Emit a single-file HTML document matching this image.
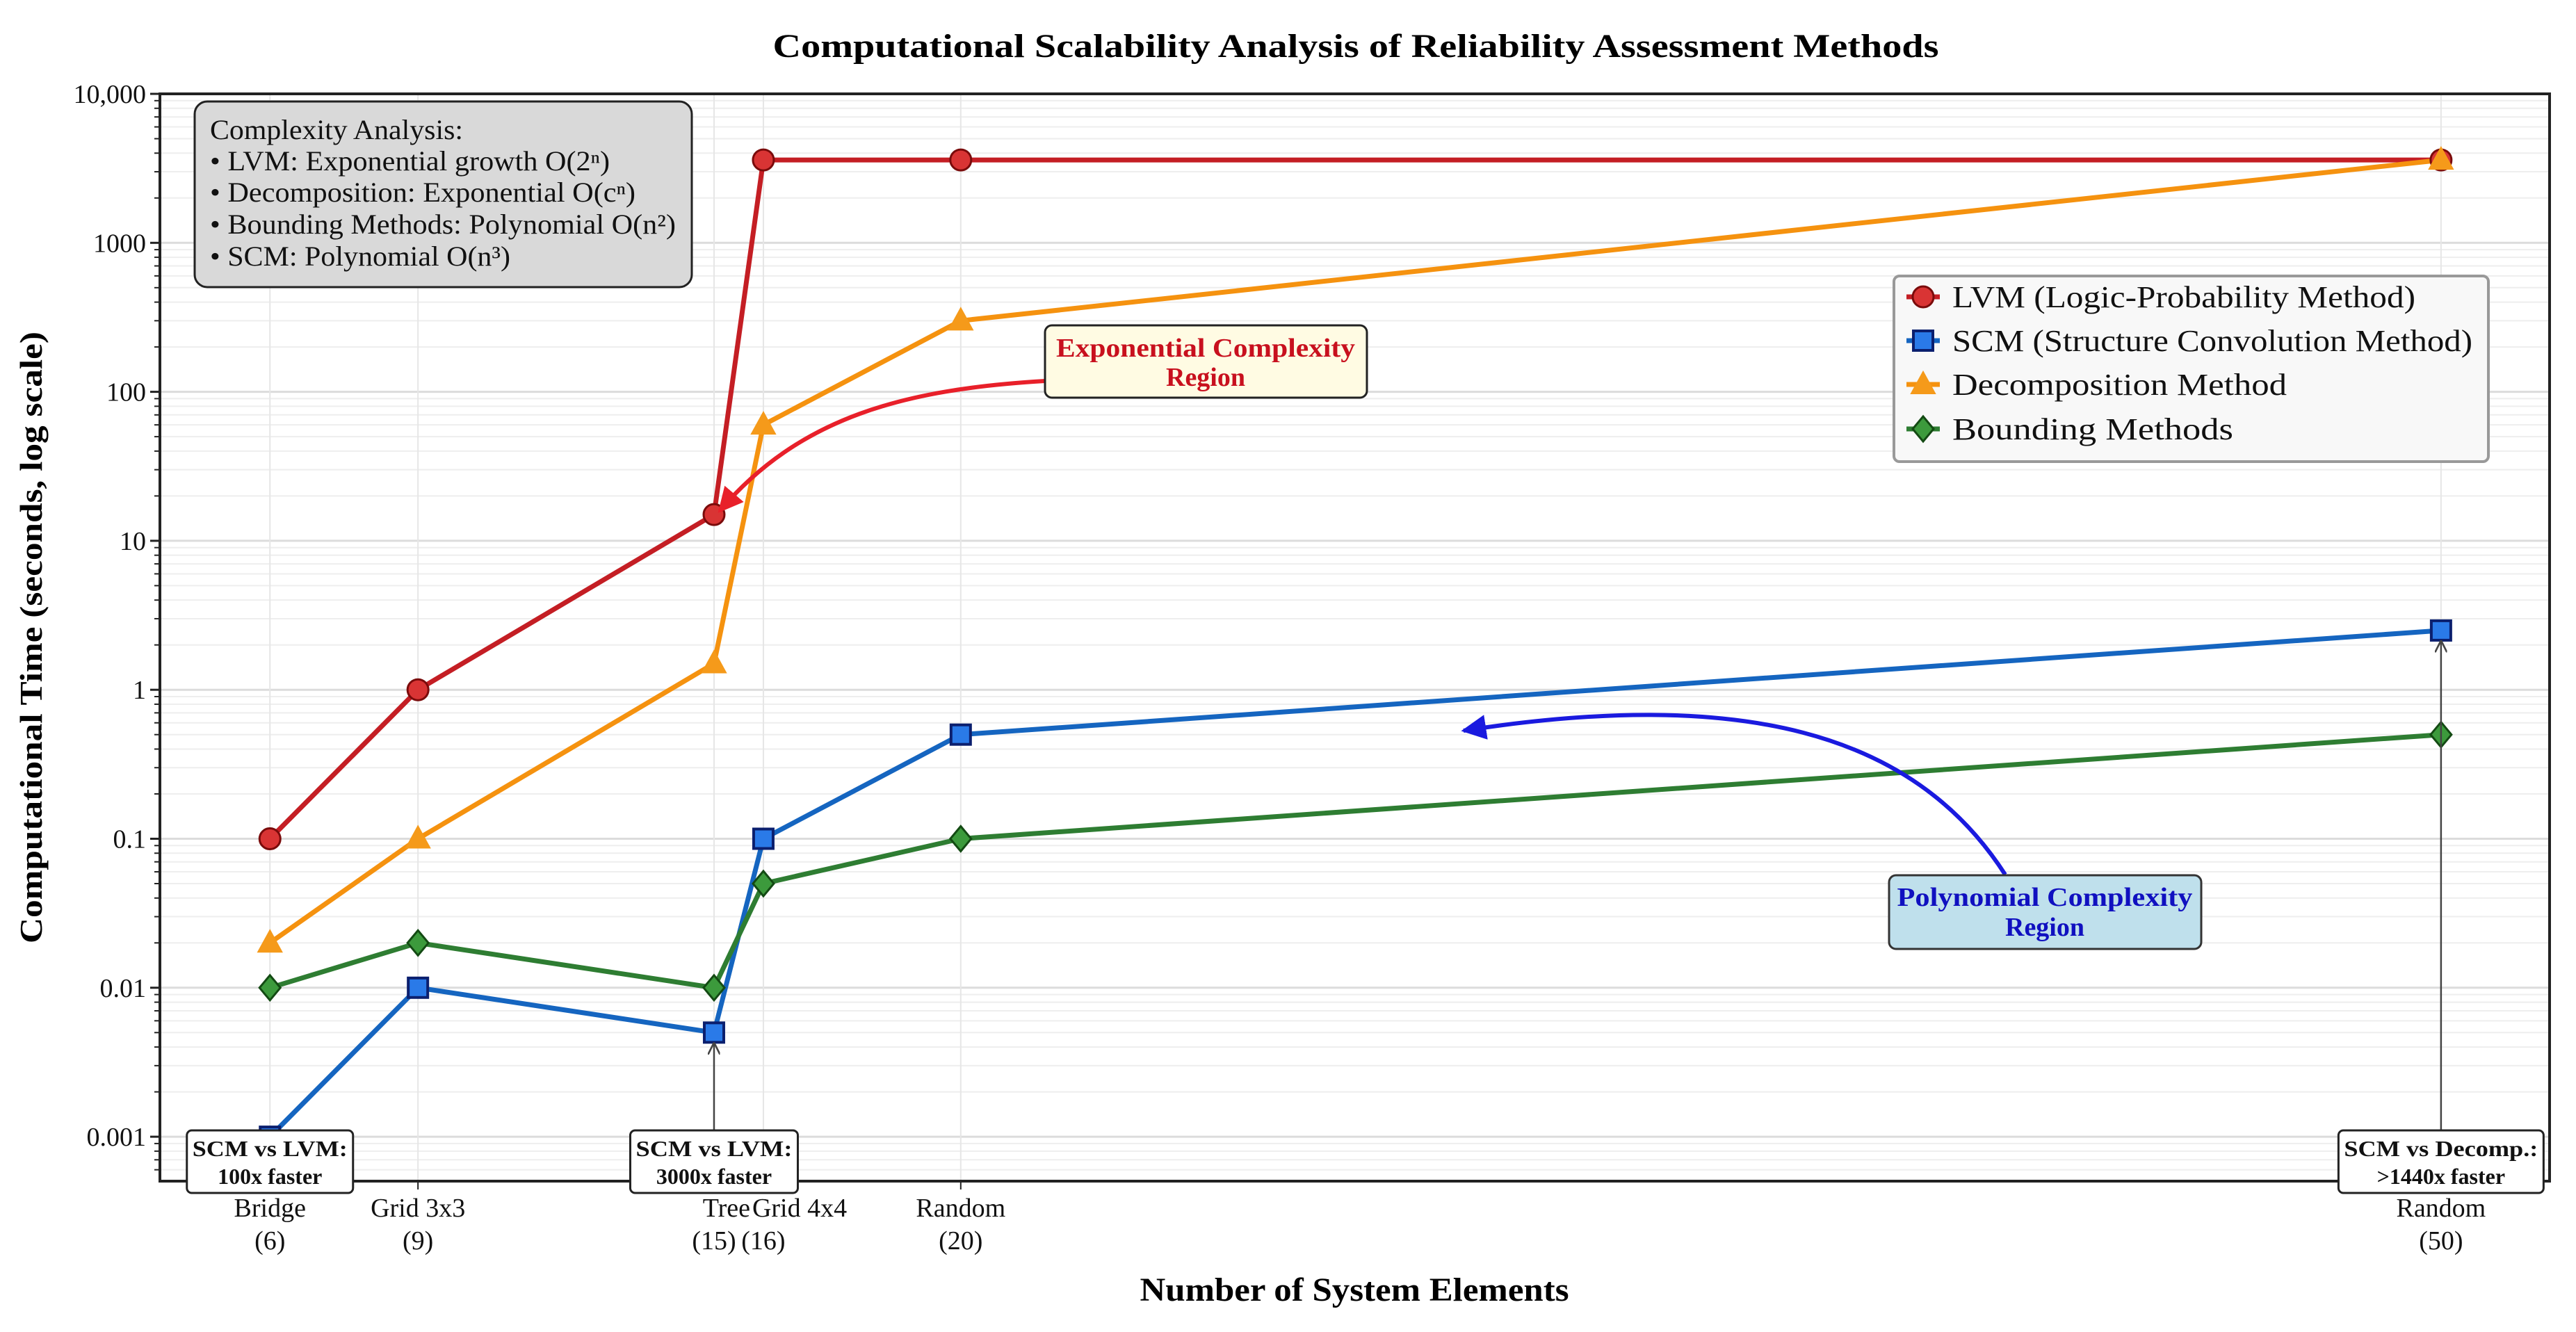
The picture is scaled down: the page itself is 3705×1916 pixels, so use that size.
<!DOCTYPE html>
<html><head><meta charset="utf-8"><style>
html,body{margin:0;padding:0;background:#fff;}
svg{display:block;font-family:"Liberation Serif",serif;}
</style></head><body>
<svg id="chart" width="3705" height="1916" viewBox="0 0 3705 1916" xmlns="http://www.w3.org/2000/svg">
<defs>
<marker id="arrRed" viewBox="0 0 10 10" refX="9" refY="5" markerWidth="6" markerHeight="6" orient="auto"><path d="M0,0 L10,5 L0,10 z" fill="#e8202a"/></marker>
<marker id="arrBlue" viewBox="0 0 10 10" refX="9" refY="5" markerWidth="6" markerHeight="6" orient="auto"><path d="M0,0 L10,5 L0,10 z" fill="#1a1adf"/></marker>
<marker id="arrGrey" viewBox="0 0 10 10" refX="9" refY="5" markerWidth="7" markerHeight="7" orient="auto"><path d="M0,0 L10,5 L0,10" fill="none" stroke="#444" stroke-width="1.5"/></marker>
</defs>
<g id="grid"></g>
<g id="series"></g>
<g id="axes"></g>
<text x="1950" y="82" text-anchor="middle" font-weight="bold" font-size="48" textLength="1677" lengthAdjust="spacingAndGlyphs">Computational Scalability Analysis of Reliability Assessment Methods</text>
<text transform="translate(60,917) rotate(-90)" text-anchor="middle" font-weight="bold" font-size="46" textLength="880" lengthAdjust="spacingAndGlyphs">Computational Time (seconds, log scale)</text>
<text x="1948" y="1871" text-anchor="middle" font-weight="bold" font-size="48" textLength="617" lengthAdjust="spacingAndGlyphs">Number of System Elements</text>

<g>
<rect x="280" y="146" width="715" height="267" rx="18" fill="#d9d9d9" stroke="#222" stroke-width="3"/>
<g font-size="40" fill="#111">
<text x="302" y="200" textLength="364" lengthAdjust="spacingAndGlyphs">Complexity Analysis:</text>
<text x="302" y="245" textLength="575" lengthAdjust="spacingAndGlyphs">• LVM: Exponential growth O(2ⁿ)</text>
<text x="302" y="290" textLength="612" lengthAdjust="spacingAndGlyphs">• Decomposition: Exponential O(cⁿ)</text>
<text x="302" y="336" textLength="670" lengthAdjust="spacingAndGlyphs">• Bounding Methods: Polynomial O(n²)</text>
<text x="302" y="382" textLength="432" lengthAdjust="spacingAndGlyphs">• SCM: Polynomial O(n³)</text>
</g></g>

<g>
<path d="M1503,548 C1300,560 1150,600 1035,735" fill="none" stroke="#e8202a" stroke-width="6" marker-end="url(#arrRed)"/>
<rect x="1503" y="468" width="463" height="104" rx="10" fill="#fffbe3" stroke="#222" stroke-width="3"/>
<text x="1734" y="513" text-anchor="middle" font-weight="bold" font-size="38" fill="#c8101e" textLength="430" lengthAdjust="spacingAndGlyphs">Exponential Complexity</text>
<text x="1734" y="555" text-anchor="middle" font-weight="bold" font-size="38" fill="#c8101e">Region</text>
</g>
<g>
<path d="M2884,1258 C2750,1050 2500,990 2105,1051" fill="none" stroke="#1a1adf" stroke-width="6" marker-end="url(#arrBlue)"/>
<rect x="2717" y="1259" width="449" height="106" rx="10" fill="#bfe0ec" stroke="#333" stroke-width="3"/>
<text x="2941" y="1303" text-anchor="middle" font-weight="bold" font-size="38" fill="#1010c0" textLength="425" lengthAdjust="spacingAndGlyphs">Polynomial Complexity</text>
<text x="2941" y="1346" text-anchor="middle" font-weight="bold" font-size="38" fill="#1010c0">Region</text>
</g>

<g id="legend">
<rect x="2724" y="397" width="855" height="267" rx="8" fill="#f8f8f8" stroke="#999" stroke-width="4"/>
</g>
<g id="notes"></g>
</svg>
<script>
const categories = ["Bridge\n(6)", "Grid 3x3\n(9)", "Tree\n(15)", "Grid 4x4\n(16)", "Random\n(20)", "Random\n(50)"];
const elements = [6, 9, 15, 16, 20, 50];
const lvm = [0.1, 1, 15, 3600, 3600, 3600];
const scm = [0.001, 0.01, 0.005, 0.1, 0.5, 2.5];
const decomp = [0.02, 0.1, 1.5, 60, 300, 3600];
const bounding = [0.01, 0.02, 0.01, 0.05, 0.1, 0.5];
const yTickValues = [0.001, 0.01, 0.1, 1, 10, 100, 1000, 10000];
const yTickLabels = ["0.001", "0.01", "0.1", "1", "10", "100", "1000", "10,000"];
const seriesNames = ["LVM (Logic-Probability Method)", "SCM (Structure Convolution Method)", "Decomposition Method", "Bounding Methods"];

const NS = "http://www.w3.org/2000/svg";
const L = 230, R = 3667, T = 135, B = 1699;
const xMin = 3.77, xMax = 52.2;
const yTop = 4, yPerDecade = 214.3;
function xs(v){ return L + (v - xMin) / (xMax - xMin) * (R - L); }
function ys(v){ return T + (yTop - Math.log10(v)) * yPerDecade; }
function mk(tag, attrs, parent){ const e = document.createElementNS(NS, tag); for (const k in attrs) e.setAttribute(k, attrs[k]); parent.appendChild(e); return e; }

const grid = document.getElementById('grid');
const axes = document.getElementById('axes');
const yMinVal = Math.pow(10, yTop - (B - T) / yPerDecade);
for (let d = -4; d < 4; d++) {
  for (let m = 2; m <= 9; m++) {
    const v = m * Math.pow(10, d);
    if (v < yMinVal || v > 10000) continue;
    const y = ys(v);
    const g = mk('line', {x1: L, x2: R, y1: y, y2: y, stroke: '#eeeeee', 'stroke-width': 2}, grid);
    
    
    const t = mk('line', {x1: L - 8, x2: L, y1: y, y2: y, stroke: '#222', 'stroke-width': 2}, axes);
    
    
  }
}
yTickValues.forEach((v, i) => {
  const y = ys(v);
  const g = mk('line', {x1: L, x2: R, y1: y, y2: y, stroke: '#dcdcdc', 'stroke-width': 3}, grid);
  
  
  const t = mk('line', {x1: L - 14, x2: L, y1: y, y2: y, stroke: '#222', 'stroke-width': 3}, axes);
  
  
  const tx = mk('text', {x: L - 20, y: y + 13, 'text-anchor': 'end', 'font-size': 38, fill: '#111'}, axes);
  
  
  tx.textContent = yTickLabels[i];
});
elements.forEach((n, i) => {
  const x = xs(n);
  const g = mk('line', {x1: x, x2: x, y1: T, y2: B, stroke: '#e6e6e6', 'stroke-width': 2}, grid);
  
  
  const t = mk('line', {x1: x, x2: x, y1: B, y2: B + 12, stroke: '#222', 'stroke-width': 2}, axes);
  
  
  const parts = categories[i].split('\n');
  let anchor = 'middle', lx = x;
  if (i === 2) { anchor = 'end'; lx = x + 52; }
  if (i === 3) { anchor = 'start'; lx = x - 16; }
  const tx = mk('text', {x: lx, y: 1750, 'text-anchor': anchor, 'font-size': 38, fill: '#111'}, axes);
  
  
  tx.textContent = parts[0];
  const tx2 = mk('text', {x: x, y: 1797, 'text-anchor': 'middle', 'font-size': 38, fill: '#111'}, axes);
  
  
  tx2.textContent = parts[1];
});
const frame = mk('rect', {x: L, y: T, width: R - L, height: B - T, fill: 'none', stroke: '#222', 'stroke-width': 4}, axes);



const seriesG = document.getElementById('series');
const styles = [
  {data: lvm, color: '#c41e24', face: '#d93434', edge: '#7a0b0b', marker: 'circle', name: 'lvm'},
  {data: scm, color: '#1565c0', face: '#2a7ae8', edge: '#0b1f6e', marker: 'square', name: 'scm'},
  {data: decomp, color: '#f5920f', face: '#f59a1a', edge: '#f59a1a', marker: 'triangle', name: 'decomposition'},
  {data: bounding, color: '#2e7d32', face: '#3c9a3c', edge: '#134a13', marker: 'diamond', name: 'bounding'}
];
function drawMarker(type, x, y, s, parent){
  let e;
  if (type === 'circle') e = mk('ellipse', {cx: x, cy: y, rx: 15, ry: 15, fill: s.face, stroke: s.edge, 'stroke-width': 3}, parent);
  else if (type === 'square') e = mk('rect', {x: x - 14, y: y - 14, width: 28, height: 28, fill: s.face, stroke: s.edge, 'stroke-width': 4}, parent);
  else if (type === 'triangle') e = mk('path', {d: `M${x},${y-18} L${x+17},${y+13} L${x-17},${y+13} Z`, fill: s.face, stroke: s.edge, 'stroke-width': 2}, parent);
  else e = mk('path', {d: `M${x},${y-18} L${x+15},${y} L${x},${y+18} L${x-15},${y} Z`, fill: s.face, stroke: s.edge, 'stroke-width': 3}, parent);
  return e;
}
styles.forEach(s => {
  const pts = s.data.map((v, i) => xs(elements[i]) + ',' + ys(v)).join(' ');
  const pl = mk('polyline', {points: pts, fill: 'none', stroke: s.color, 'stroke-width': 7, 'stroke-linejoin': 'round'}, seriesG);
  
  
});
styles.forEach(s => {
  s.data.forEach((v, i) => {
    const e = drawMarker(s.marker, xs(elements[i]), ys(v), s, seriesG);
    
    
  });
});

const leg = document.getElementById('legend');
const legY = [427, 490, 553, 617];
const legW = [666, 748, 481, 404];
styles.forEach((s, i) => {
  const y = legY[i];
  const ln = mk('line', {x1: 2742, x2: 2790, y1: y, y2: y, stroke: s.color, 'stroke-width': 7}, leg);
  
  
  const m = drawMarker(s.marker, 2766, y, s, leg);
  
  
  const t = mk('text', {x: 2808, y: y + 15, 'font-size': 44, fill: '#111', textLength: legW[i], lengthAdjust: 'spacingAndGlyphs'}, leg);
  
  
  t.textContent = seriesNames[i];
});

const notes = document.getElementById('notes');
const noteIdx = [0, 2, 5];
const noteText = [["SCM vs LVM:", "100x faster"], ["SCM vs LVM:", "3000x faster"], ["SCM vs Decomp.:", ">1440x faster"]];
const noteW = [239, 241, 295];
noteIdx.forEach((k, j) => {
  const x = xs(elements[k]);
  const yp = ys(scm[k]);
  if (1626 - yp > 30) {
    const a = mk('line', {x1: x, y1: 1626, x2: x, y2: yp + 16, stroke: '#444', 'stroke-width': 2.5, 'marker-end': 'url(#arrGrey)'}, notes);
    
    
  }
  const r = mk('rect', {x: x - noteW[j] / 2, y: 1626, width: noteW[j], height: 90, rx: 7, fill: '#fff', stroke: '#222', 'stroke-width': 3}, notes);
  
  
  const t1 = mk('text', {x: x, y: 1663, 'text-anchor': 'middle', 'font-weight': 'bold', 'font-size': 32, fill: '#111', textLength: noteW[j] - 16, lengthAdjust: 'spacingAndGlyphs'}, notes);
  
  
  t1.textContent = noteText[j][0];
  const t2 = mk('text', {x: x, y: 1703, 'text-anchor': 'middle', 'font-weight': 'bold', 'font-size': 32, fill: '#111'}, notes);
  
  
  t2.textContent = noteText[j][1];
});
</script>
</body></html>
